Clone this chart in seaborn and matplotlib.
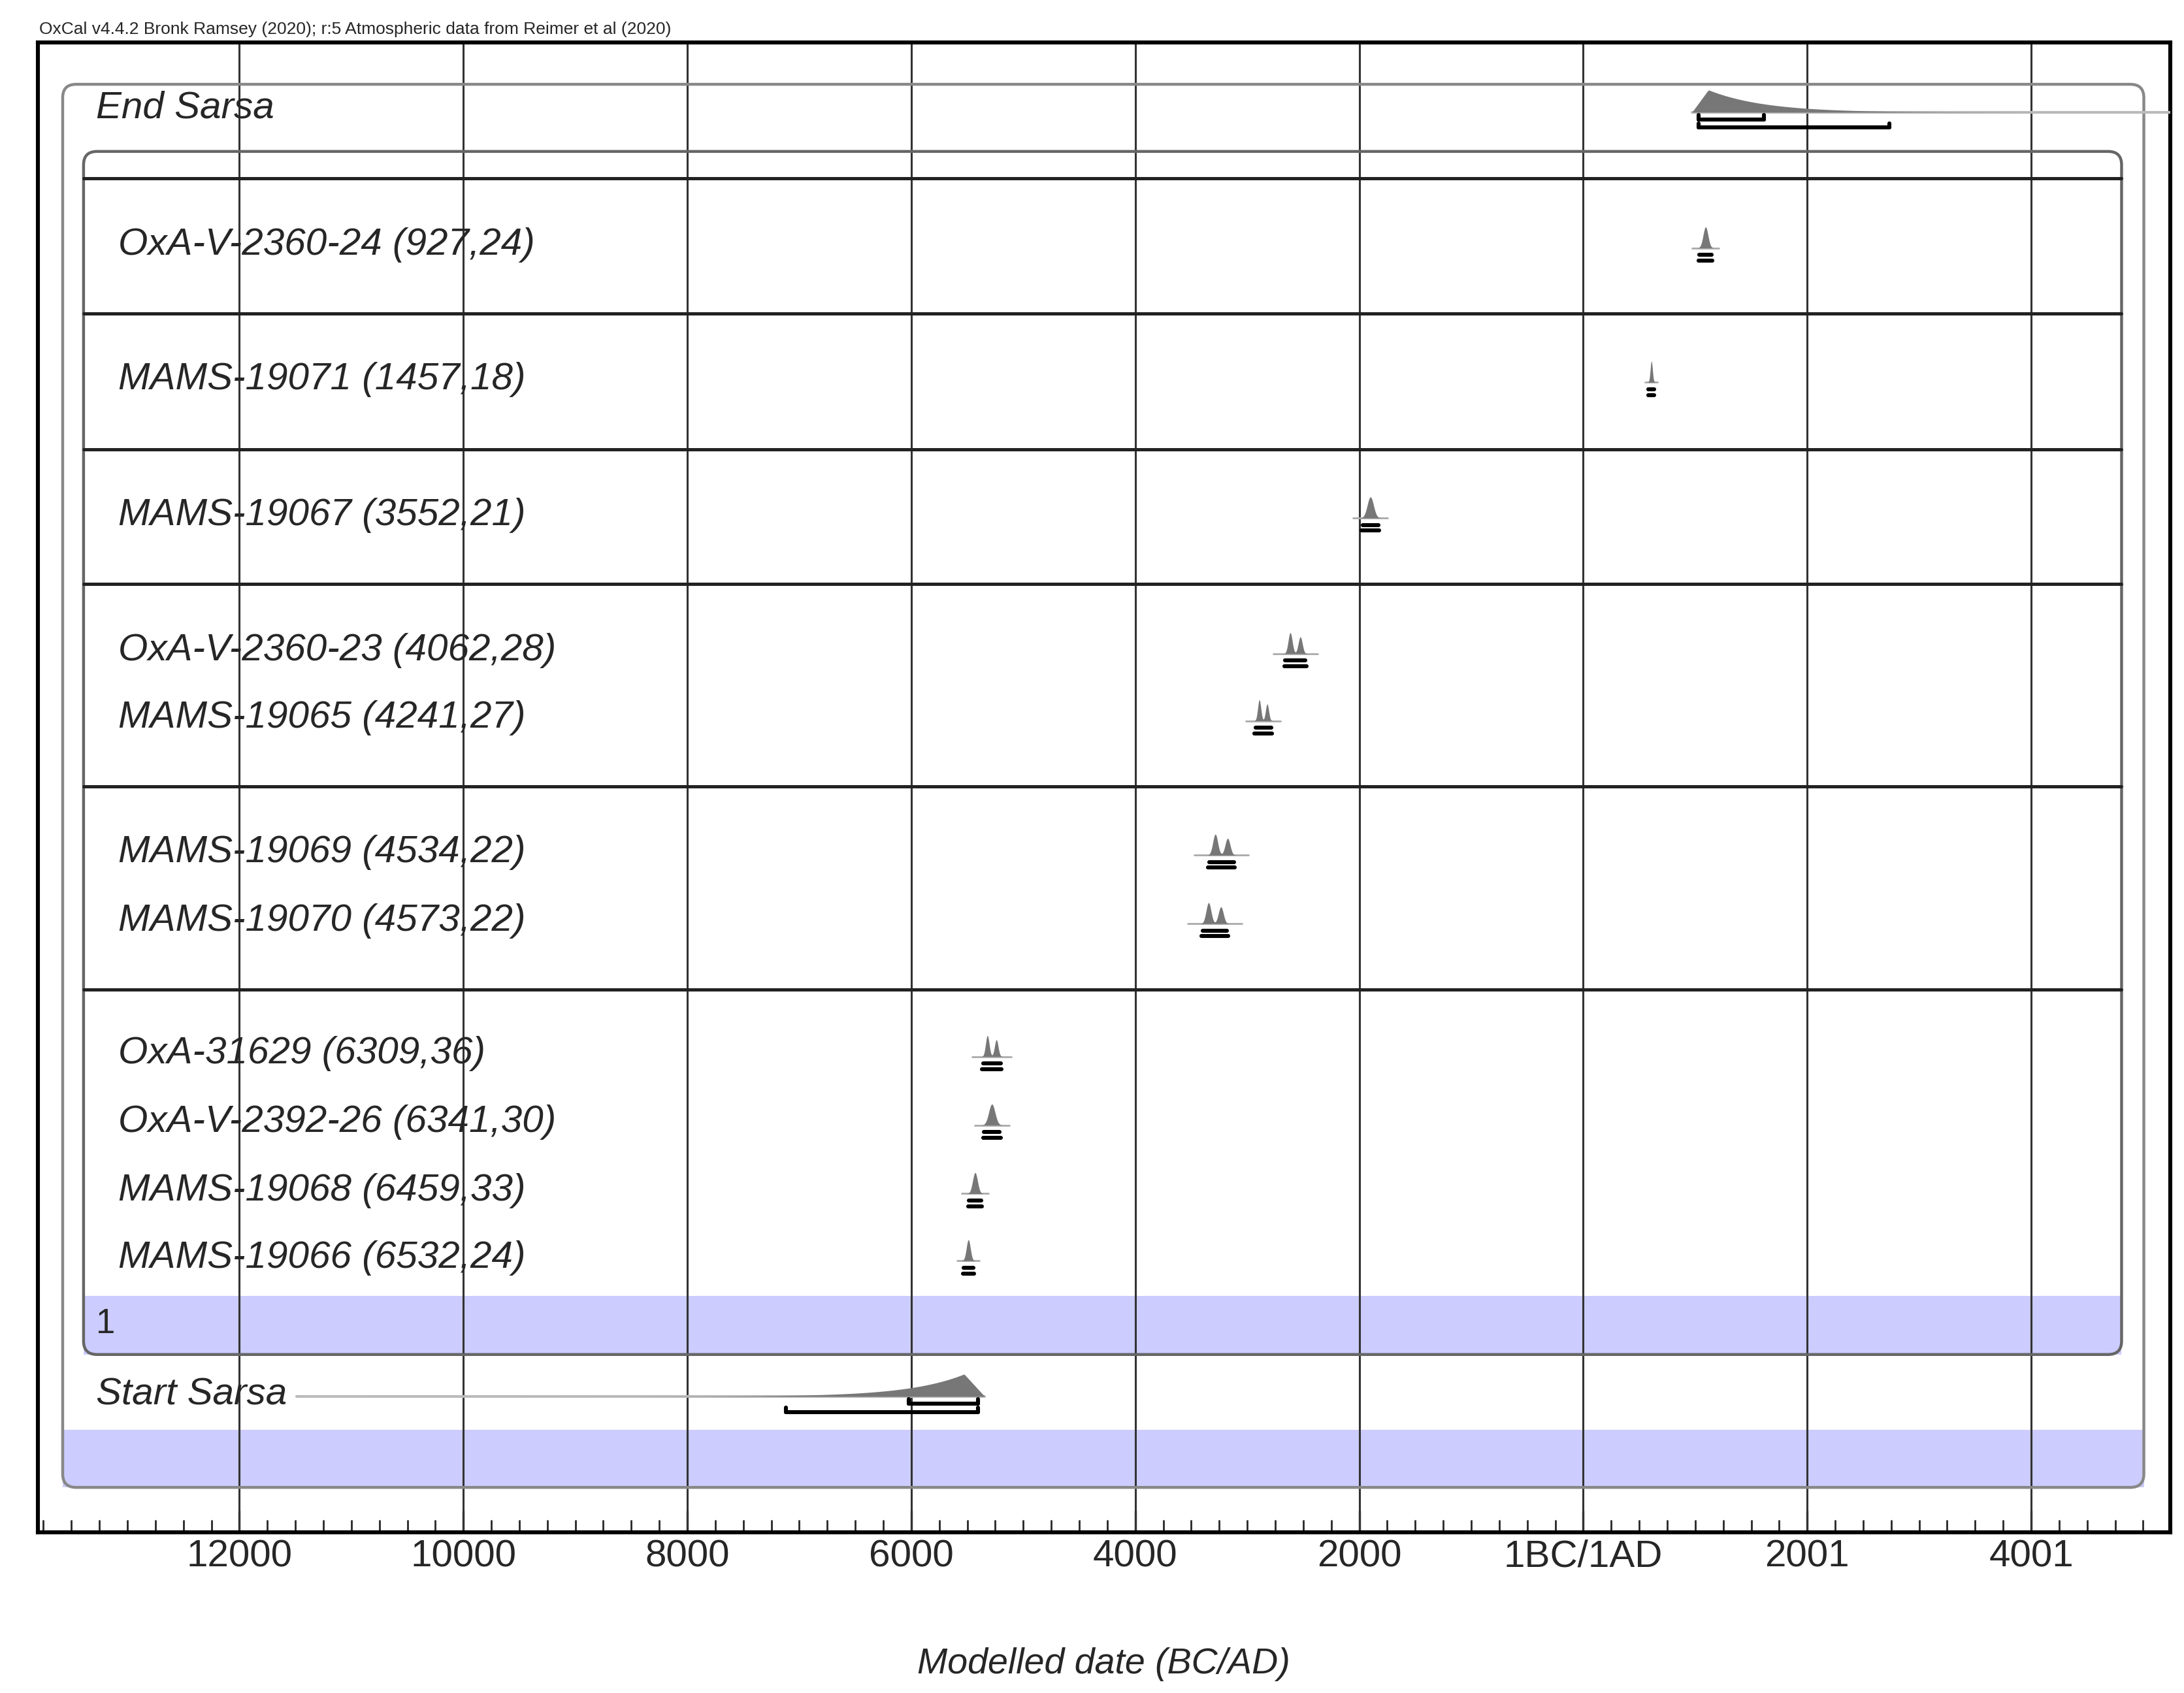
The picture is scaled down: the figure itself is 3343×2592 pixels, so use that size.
import numpy as np
import matplotlib
matplotlib.use("Agg")
import matplotlib.pyplot as plt
import seaborn as sns
from matplotlib.patches import FancyBboxPatch, Rectangle
from matplotlib.ticker import MultipleLocator

# sample names (with 14C age, error) and modelled calendar centres (AD, negative = BC)
sample_labels = ["OxA-V-2360-24 (927,24)", "MAMS-19071 (1457,18)", "MAMS-19067 (3552,21)",
                 "OxA-V-2360-23 (4062,28)", "MAMS-19065 (4241,27)",
                 "MAMS-19069 (4534,22)", "MAMS-19070 (4573,22)",
                 "OxA-31629 (6309,36)", "OxA-V-2392-26 (6341,30)",
                 "MAMS-19068 (6459,33)", "MAMS-19066 (6532,24)"]
sample_centres = [1093, 609, -1900, -2571, -2857, -3230, -3290, -5280, -5280, -5430, -5490]
sample_widths = [55, 25, 70, 90, 70, 110, 110, 80, 70, 55, 45]
sample_rows = [175, 271, 368, 465, 513, 609, 658, 753, 802, 851, 899]
sample_peaks = [1, 1, 1, 2, 2, 2, 2, 2, 1, 1, 1]

tick_pos = [-12000, -10000, -8000, -6000, -4000, -2000, 0, 2000, 4000]
tick_labels = ["12000", "10000", "8000", "6000", "4000", "2000", "1BC/1AD", "2001", "4001"]
dividers = [127, 224, 321, 417, 562, 707]

end_peak, end_r68, end_r95 = 1118, (1031, 1615), (1031, 2733)
start_peak, start_r68, start_r95 = -5528, (-6025, -5404), (-7118, -5404)

X0, X1 = -13800, 5240


def px(xpix):
    return (xpix - 1135) / 161 * 2000


sns.set_theme(style="white")
plt.rcParams["font.family"] = ["Liberation Sans", "DejaVu Sans"]

fig = plt.figure(figsize=(16.715, 12.96), dpi=200)
ax = fig.add_axes([0.0173, 0.095, 0.9763, 0.880])
ax.set_xlim(X0, X1)
ax.set_ylim(1065, 0)
for s in ax.spines.values():
    s.set_linewidth(2.2)
    s.set_color("black")

for t in tick_pos:
    ax.axvline(t, color="#333333", lw=1.1, zorder=1)

# outer and inner rounded boxes
ax.add_patch(FancyBboxPatch((px(42), 30), px(1538) - px(42), 1033 - 30,
                            boxstyle="round,pad=0,rounding_size=120", mutation_aspect=0.08,
                            fill=False, ec="#888888", lw=1.6, zorder=2))
ax.add_patch(Rectangle((px(42), 992), px(1538) - px(42), 41, fc="#ccccff", ec="none", zorder=0.5))
ax.add_patch(FancyBboxPatch((px(57), 78), px(1522) - px(57), 938 - 78,
                            boxstyle="round,pad=0,rounding_size=120", mutation_aspect=0.08,
                            fill=False, ec="#666666", lw=1.6, zorder=2))
ax.add_patch(Rectangle((px(57), 896), px(1522) - px(57), 42, fc="#ccccff", ec="none", zorder=0.5))
for d in dividers:
    ax.plot([px(57), px(1522)], [d - 30, d - 30], color="#222222", lw=1.8, zorder=2)


def draw_dist(centre, width, ybase, npk, height=15):
    xs = np.linspace(centre - 3 * width, centre + 3 * width, 200)
    if npk == 1:
        ys = np.exp(-0.5 * ((xs - centre) / (width / 2.5)) ** 2)
    else:
        ys = (np.exp(-0.5 * ((xs - centre + width * 0.5) / (width / 5)) ** 2)
              + 0.8 * np.exp(-0.5 * ((xs - centre - width * 0.5) / (width / 5)) ** 2))
    ys = ys / ys.max() * height
    ax.plot([centre - 2.2 * width, centre + 2.2 * width], [ybase, ybase], color="#aaaaaa", lw=1, zorder=3)
    ax.fill_between(xs, ybase, ybase - ys, color="#777777", lw=0, zorder=3)
    ax.plot([centre - width, centre + width], [ybase + 5, ybase + 5], color="black", lw=2.2, zorder=3)
    ax.plot([centre - width * 1.1, centre + width * 1.1], [ybase + 9, ybase + 9], color="black", lw=2.2, zorder=3)


for lab, c, w, r, npk in zip(sample_labels, sample_centres, sample_widths, sample_rows, sample_peaks):
    y = r - 30
    ax.text(px(82), y, lab, fontsize=21, style="italic", va="center", ha="left", zorder=4)
    draw_dist(c, w, y + 2, npk)

# boundaries
def boundary(peak, r68, r95, ybase, tail_dir, tail_end):
    if tail_dir > 0:
        xs = np.linspace(r68[0] - 60, tail_end, 400)
        ys = np.where(xs < peak, (xs - (r68[0] - 60)) / (peak - r68[0] + 60),
                      np.exp(-(xs - peak) / 500))
    else:
        xs = np.linspace(tail_end, r68[1] + 60, 400)
        ys = np.where(xs > peak, ((r68[1] + 60) - xs) / (r68[1] + 60 - peak),
                      np.exp(-(peak - xs) / 500))
    ax.plot(xs, np.full_like(xs, ybase), color="#bbbbbb", lw=1.5, zorder=3)
    ax.fill_between(xs, ybase, ybase - 16 * ys, color="#777777", lw=0, zorder=3)
    for (a, b), dy in ((r68, 5), (r95, 11)):
        ax.plot([a, b], [ybase + dy, ybase + dy], color="black", lw=2.2, zorder=3)
        ax.plot([a, a], [ybase + dy - 3, ybase + dy], color="black", lw=2.2, zorder=3)
        ax.plot([b, b], [ybase + dy - 3, ybase + dy], color="black", lw=2.2, zorder=3)


ax.text(px(66), 47, "End Sarsa", fontsize=21, style="italic", va="center", zorder=4)
boundary(end_peak, end_r68, end_r95, 50, 1, X1)
ax.text(px(66), 967, "Start Sarsa", fontsize=21, style="italic", va="center", zorder=4)
boundary(start_peak, start_r68, start_r95, 968, -1, px(210))
ax.text(px(66), 916, "1", fontsize=19, va="center", zorder=4)

ax.set_xticks(tick_pos)
ax.set_xticklabels(tick_labels, fontsize=21)
ax.set_yticks([])
ax.xaxis.set_minor_locator(MultipleLocator(250))
ax.tick_params(axis="x", which="major", direction="in", length=12, width=1.2, bottom=True, pad=4)
ax.tick_params(axis="x", which="minor", direction="in", length=7, width=1, bottom=True)
ax.set_xlabel("Modelled date (BC/AD)", fontsize=20, style="italic", labelpad=40)

fig.text(0.018, 0.978, "OxCal v4.4.2 Bronk Ramsey (2020); r:5 Atmospheric data from Reimer et al (2020)",
         fontsize=9.5, ha="left", va="bottom")

fig.savefig("out.png", dpi=200, facecolor="white")
